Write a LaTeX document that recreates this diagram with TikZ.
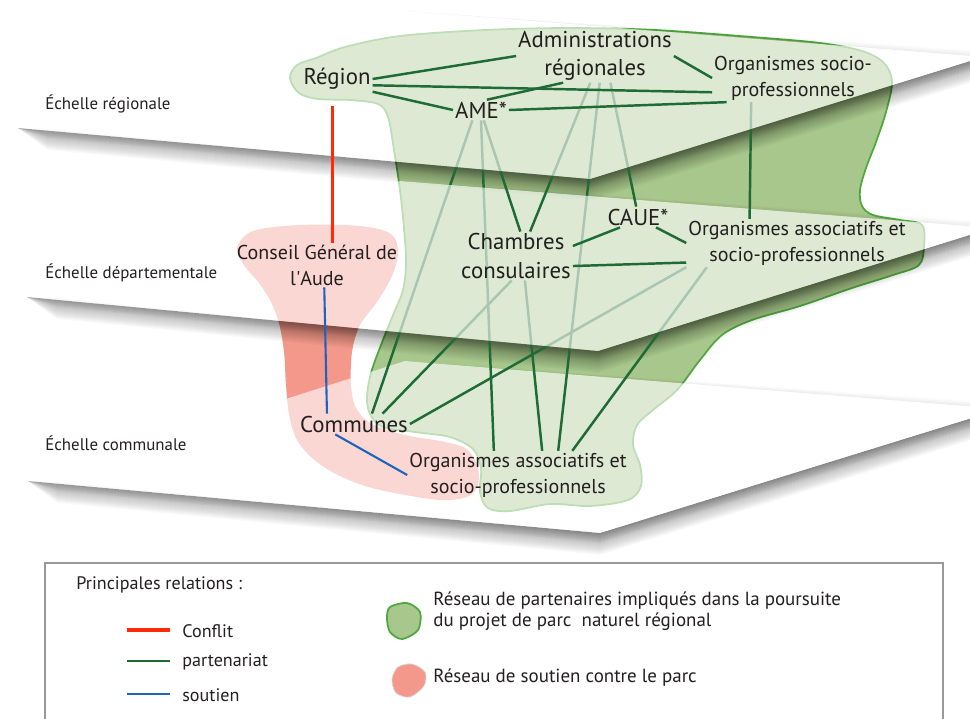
\documentclass[tikz,border=0pt]{standalone}
\usepackage{fontspec}
\setmainfont{PT Sans}
\usetikzlibrary{calc}

\definecolor{partvert}{HTML}{1E6B35}
\definecolor{blobvert}{HTML}{A8C78C}
\definecolor{bordvert}{HTML}{4FA83F}
\definecolor{blobrose}{HTML}{F3988A}
\definecolor{conflit}{HTML}{FF2A0A}
\definecolor{soutien}{HTML}{1E64BE}
\definecolor{texte}{HTML}{231F20}

\pgfdeclarelayer{blobs}
\pgfdeclarelayer{ombres}
\pgfdeclarelayer{planbas}
\pgfdeclarelayer{liensbas}
\pgfdeclarelayer{planmilieu}
\pgfdeclarelayer{liensmilieu}
\pgfdeclarelayer{planhaut}
\pgfsetlayers{blobs,ombres,planbas,liensbas,planmilieu,liensmilieu,planhaut,main}

\tikzset{
  acteur/.style={font=\fontsize{13}{16}\selectfont, text=texte, align=center, inner sep=1pt},
  orga/.style={font=\fontsize{11.4}{14.7}\selectfont, text=texte, align=center, inner sep=1pt},
  echelle/.style={font=\fontsize{9.6}{11}\selectfont, text=texte, anchor=west, inner sep=0pt},
  legende/.style={font=\fontsize{10.3}{12}\selectfont, text=texte, anchor=west, inner sep=0pt},
  legendeb/.style={font=\fontsize{10.8}{12}\selectfont, text=texte, anchor=west, inner sep=0pt},
  plan/.style={fill=white, fill opacity=0.62},
  lien/.style={draw=partvert, line width=1.4pt},
  conflitlien/.style={draw=conflit, line width=1.8pt},
  soutienlien/.style={draw=soutien, line width=1.2pt},
  cadre/.style={draw=black!40, line width=0.6pt}
}

\begin{document}
\begin{tikzpicture}[x=0.02cm, y=-0.02cm]
\useasboundingbox (0,0) rectangle (970,718);

% corners of the three planes
\coordinate (hL) at (18,128);  \coordinate (hB) at (393,10);
\coordinate (hR) at (983,57);  \coordinate (hF) at (590,179);
\coordinate (mL) at (27,297);  \coordinate (mB) at (400,181);
\coordinate (mR) at (992,228); \coordinate (mF) at (598,351);
\coordinate (bL) at (28,481);  \coordinate (bB) at (405,361);
\coordinate (bR) at (1001,409); \coordinate (bF) at (600,533);

% scales
\node[echelle] (eR) at (45,104) {Échelle régionale};
\node[echelle] (eD) at (45,273) {Échelle départementale};
\node[echelle] (eC) at (45,443) {Échelle communale};

% actors
\node[acteur] (reg)  at (337,79)  {Région};
\node[acteur] (adm)  at (595,56)  {Administrations\\régionales};
\node[orga]   (orgT) at (793,78)  {Organismes socio-\\professionnels};
\node[acteur] (ame)  at (481,110) {AME*};
\node[acteur] (caue) at (638,217) {CAUE*};
\node[acteur] (cham) at (516,256) {Chambres\\consulaires};
\node[orga]   (orgM) at (797,243) {Organismes associatifs et\\socio-professionnels};
\node[orga]   (cg)   at (317,265) {Conseil Général de\\l\textquotesingle Aude};
\node[acteur] (comm) at (354,424) {Communes};
\node[orga]   (orgB) at (518,475) {Organismes associatifs et\\socio-professionnels};

% networks
\begin{pgfonlayer}{blobs}
  \draw[bordvert, fill=blobvert, line width=1pt] plot[smooth cycle, tension=0.55] coordinates {
    (290,78) (297,65) (316,58) (345,47) (400,36) (485,30) (570,28) (655,30)
    (752,37) (820,43) (862,51) (884,63) (892,82) (886,112) (876,142) (866,168)
    (860,190) (862,206) (873,215) (900,220) (922,225) (924,246) (919,265)
    (893,275) (852,288) (800,306) (752,320) (722,335) (700,360) (677,390)
    (653,410) (637,425) (633,445) (640,465) (641,486) (628,500) (590,506)
    (550,504) (510,511) (488,508) (480,492) (481,468) (473,449) (450,437)
    (415,432) (383,427) (370,414) (367,397) (371,373) (381,345) (393,315)
    (403,290) (406,262) (404,228) (400,190) (394,150) (388,117) (378,104)
    (350,100) (318,99) (299,93)};
  \fill[blobrose] plot[smooth cycle, tension=0.55] coordinates {
    (237,248) (253,231) (300,225) (360,226) (391,234) (398,252) (392,276)
    (377,302) (360,325) (352,352) (351,385) (356,408) (372,424) (405,435)
    (440,441) (465,448) (477,464) (478,485) (467,497) (440,500) (400,494)
    (365,486) (334,473) (311,457) (296,438) (289,414) (286,385) (284,352)
    (279,323) (271,302) (259,283) (244,265)};
\end{pgfonlayer}

% shadows under the planes
\begin{pgfonlayer}{ombres}
  \foreach \p in {h,m,b} {
    \foreach \k in {1,...,22,1,2,...,10}
      \fill[black, opacity=0.018] (\p L) -- (\p F) -- (\p R) -- ($(\p R)+(0,\k)$)
        -- ($(\p F)+(0,\k)$) -- ($(\p L)+(30,\k)$) -- cycle;
    \foreach \k in {1,...,6}
      \fill[black, opacity=0.012] (\p B) -- (\p R) -- ($(\p R)+(0,-\k)$) -- cycle;
  }
\end{pgfonlayer}

% planes
\begin{pgfonlayer}{planbas}
  \fill[plan] (bL) -- (bB) -- (bR) -- (bF) -- cycle;
\end{pgfonlayer}
\begin{pgfonlayer}{planmilieu}
  \fill[plan] (mL) -- (mB) -- (mR) -- (mF) -- cycle;
\end{pgfonlayer}
\begin{pgfonlayer}{planhaut}
  \fill[plan] (hL) -- (hB) -- (hR) -- (hF) -- cycle;
\end{pgfonlayer}

% links down to the communal scale
\begin{pgfonlayer}{liensbas}
  \draw[lien] (ame.-130) -- (comm.30);
  \draw[lien] (ame.south) -- (orgB.135);
  \draw[lien] (adm.-80) -- (orgB.31);
  \draw[lien] (cham.-100) -- (comm.20);
  \draw[lien] (cham.-70) -- (orgB.45);
  \draw[lien] (orgM.south west) -- (comm.east);
  \draw[lien] (orgM.-165) -- (orgB.24);
\end{pgfonlayer}

% links down to the departmental scale
\begin{pgfonlayer}{liensmilieu}
  \draw[lien] (ame.-75) -- (cham.80);
  \draw[lien] (adm.-100) -- (cham.60);
  \draw[lien] (adm.-60) -- (caue.100);
  \draw[lien] (orgT.-150) -- (orgM.153);
  \draw[lien] (cham.10) -- (caue.-150);
  \draw[lien] (caue.-30) -- (orgM.west);
  \draw[lien] (cham.-10) -- (orgM.190);
\end{pgfonlayer}

% regional links
\draw[lien] (reg.east) -- (adm.west);
\draw[lien] (reg.-10) -- (orgT.190);
\draw[lien] (reg.south east) -- (ame.west);
\draw[lien] (ame.60) -- (adm.220);
\draw[lien] (ame.east) -- (orgT.200);
\draw[lien] (adm.east) -- (orgT.west);

% conflict and support
\draw[conflitlien, shorten <=8pt] (reg.-110) -- (reg.-110 |- cg.north);
\draw[soutienlien] (cg.-72) -- (comm.159);
\draw[soutienlien] (comm.-151) -- (orgB.west);

% legend
\draw[cadre] (45,563) rectangle (943,730);
\node[legende] (ltitre) at (76,585) {Principales relations :};
\node[legende] (lconf) at (182,631) {Conflit};
\node[legende] (lpart) at (182,662) {partenariat};
\node[legende] (lsout) at (182,695) {soutien};
\draw[conflitlien] ($(lconf.west)+(-55,-1)$) -- ++(43,0);
\draw[lien] ($(lpart.west)+(-55,-1)$) -- ++(43,0);
\draw[soutienlien] ($(lsout.west)+(-55,-1)$) -- ++(43,0);
\draw[bordvert, fill=blobvert, line width=1pt] plot[smooth cycle] coordinates {
  (390,607) (407,603) (420,612) (418,630) (402,639) (390,632) (387,618)};
\draw[black!15, fill=blobrose, line width=0.4pt] plot[smooth cycle] coordinates {
  (398,667) (412,664) (425,672) (424,686) (410,697) (396,693) (392,679)};
\node[legendeb, align=left] (lvert) at (433,611)
  {Réseau de partenaires impliqués dans la poursuite\\du projet de parc~ naturel régional};
\node[legendeb] (lrose) at (433,678) {Réseau de soutien contre le parc};
\end{tikzpicture}
\end{document}
